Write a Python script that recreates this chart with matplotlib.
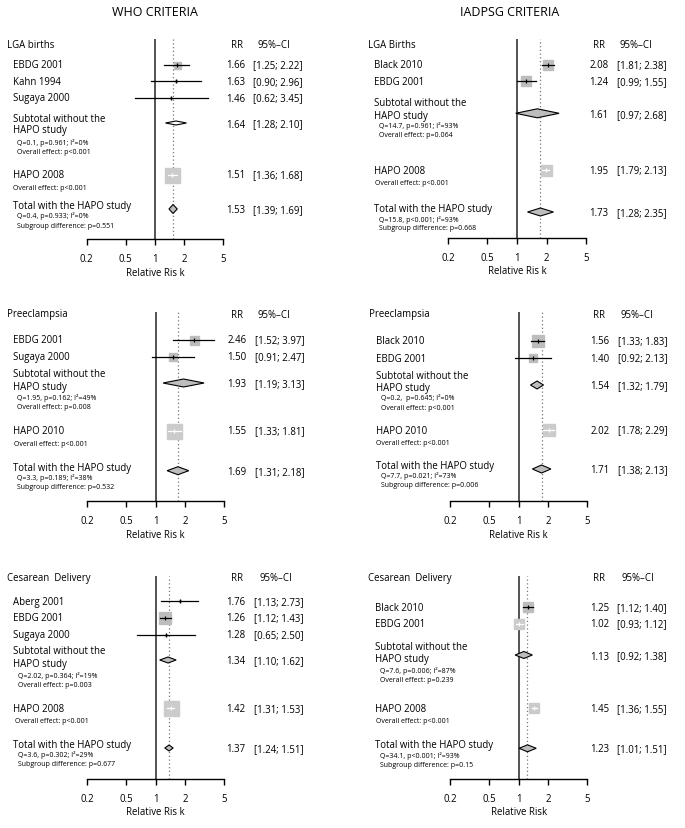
import matplotlib
matplotlib.use("Agg")
import matplotlib.pyplot as plt

W, H = 685, 829
plt.rcParams['font.family'] = ['Open Sans', 'DejaVu Sans']

# ---------------- data ----------------
# WHO criteria, LGA births
who_lga_names = ["EBDG 2001", "Kahn 1994", "Sugaya 2000"]
who_lga_rr = [1.66, 1.63, 1.46]
who_lga_lo = [1.25, 0.90, 0.62]
who_lga_hi = [2.22, 2.96, 3.45]
who_lga_sub = [1.64, 1.28, 2.10]
who_lga_hapo = [1.51, 1.36, 1.68]
who_lga_total = [1.53, 1.39, 1.69]
who_lga_stats = ["Q=0.1, p=0.961; I²=0%", "Overall effect: p<0.001",
                 "Overall effect: p<0.001",
                 "Q=0.4, p=0.933; I²=0%", "Subgroup difference: p=0.551"]

# IADPSG criteria, LGA births
iad_lga_names = ["Black 2010", "EBDG 2001"]
iad_lga_rr = [2.08, 1.24]
iad_lga_lo = [1.81, 0.99]
iad_lga_hi = [2.38, 1.55]
iad_lga_sub = [1.61, 0.97, 2.68]
iad_lga_hapo = [1.95, 1.79, 2.13]
iad_lga_total = [1.73, 1.28, 2.35]
iad_lga_stats = ["Q=14.7, p=0.961; I²=93%", "Overall effect: p=0.064",
                 "Overall effect: p<0.001",
                 "Q=15.8, p<0.001; I²=93%", "Subgroup difference: p=0.668"]

# WHO criteria, preeclampsia
who_pre_names = ["EBDG 2001", "Sugaya 2000"]
who_pre_rr = [2.46, 1.50]
who_pre_lo = [1.52, 0.91]
who_pre_hi = [3.97, 2.47]
who_pre_sub = [1.93, 1.19, 3.13]
who_pre_hapo = [1.55, 1.33, 1.81]
who_pre_total = [1.69, 1.31, 2.18]
who_pre_stats = ["Q=1.95, p=0.162; I²=49%", "Overall effect: p=0.008",
                 "Overall effect: p<0.001",
                 "Q=3.3, p=0.189; I²=38%", "Subgroup difference: p=0.532"]

# IADPSG criteria, preeclampsia
iad_pre_names = ["Black 2010", "EBDG 2001"]
iad_pre_rr = [1.56, 1.40]
iad_pre_lo = [1.33, 0.92]
iad_pre_hi = [1.83, 2.13]
iad_pre_sub = [1.54, 1.32, 1.79]
iad_pre_hapo = [2.02, 1.78, 2.29]
iad_pre_total = [1.71, 1.38, 2.13]
iad_pre_stats = ["Q=0.2,  p=0.645; I²=0%", "Overall effect: p<0.001",
                 "Overall effect: p<0.001",
                 "Q=7.7, p=0.021; I²=73%", "Subgroup difference: p=0.006"]

# WHO criteria, cesarean delivery
who_ces_names = ["Aberg 2001", "EBDG 2001", "Sugaya 2000"]
who_ces_rr = [1.76, 1.26, 1.28]
who_ces_lo = [1.13, 1.12, 0.65]
who_ces_hi = [2.73, 1.43, 2.50]
who_ces_sub = [1.34, 1.10, 1.62]
who_ces_hapo = [1.42, 1.31, 1.53]
who_ces_total = [1.37, 1.24, 1.51]
who_ces_stats = ["Q=2.02, p=0.364; I²=19%", "Overall effect: p=0.003",
                 "Overall effect: p<0.001",
                 "Q=3.6, p=0.302; I²=29%", "Subgroup difference: p=0.677"]

# IADPSG criteria, cesarean delivery
iad_ces_names = ["Black 2010", "EBDG 2001"]
iad_ces_rr = [1.25, 1.02]
iad_ces_lo = [1.12, 0.93]
iad_ces_hi = [1.40, 1.12]
iad_ces_sub = [1.13, 0.92, 1.38]
iad_ces_hapo = [1.45, 1.36, 1.55]
iad_ces_total = [1.23, 1.01, 1.51]
iad_ces_stats = ["Q=7.6, p=0.006; I²=87%", "Overall effect: p=0.239",
                 "Overall effect: p<0.001",
                 "Q=34.1, p<0.001; I²=93%", "Subgroup difference: p=0.15"]

ticks = [0.2, 0.5, 1, 2, 5]
tick_labels = ["0.2", "0.5", "1", "2", "5"]

GRAY = "#bdbdbd"
LIGHT = "#cbcbcb"
SMALL = 5.0
MAIN = 6.9

fig = plt.figure(figsize=(W / 100, H / 100), dpi=100)


def txt(x, y, s, size=MAIN, **kw):
    fig.text(x / W, 1 - y / H, s, va="center", fontsize=size, **kw)


def ci_text(lo, hi):
    return f"[{lo:.2f}; {hi:.2f}]"


def diamond(ax, vals, y, h, fc):
    rr, lo, hi = vals
    ax.fill([lo, rr, hi, rr], [y, y - h / 2, y, y + h / 2], fc=fc, ec="black",
            lw=0.8, zorder=4, clip_on=False)


def forest(d, lay):
    x0, x1, ay, top = lay["axis"]
    ax = fig.add_axes([x0 / W, 1 - ay / H, (x1 - x0) / W, (ay - top) / H])
    ax.set_xscale("log")
    ax.set_xlim(0.2, 5)
    ax.set_ylim(ay, top)
    ax.patch.set_alpha(0)
    for s in ["top", "left", "right"]:
        ax.spines[s].set_visible(False)
    ax.spines["bottom"].set_linewidth(1.0)
    ax.set_yticks([])
    ax.set_xticks(ticks)
    ax.set_xticklabels(tick_labels)
    ax.minorticks_off()
    ax.tick_params(axis="x", length=4, width=1.0, pad=6, labelsize=MAIN)

    ax.axvline(1, color="#444444", lw=1.3, zorder=1)
    ax.axvline(d["total"][0], color="#777777", lw=0.9, ls=(0, (1, 2)), zorder=1)

    # individual studies
    for i, name in enumerate(d["names"]):
        y = lay["study_y"][i]
        box, inner = lay["boxes"][i]
        fc = LIGHT if inner == "white" else GRAY
        ax.plot(d["rr"][i], y, marker="s", ms=box * 0.72, mfc=fc, mec=fc,
                zorder=2, clip_on=False)
        ax.plot([d["lo"][i], d["hi"][i]], [y, y], color=inner, lw=0.9,
                zorder=3, clip_on=False)
        ax.plot(d["rr"][i], y, marker="|", ms=3.5, mew=0.9, color=inner,
                zorder=3, clip_on=False)
        txt(lay["sx"], y, name)
        txt(lay["rrx"], y, f"{d['rr'][i]:.2f}", ha="right")
        txt(lay["cix"], y, ci_text(d["lo"][i], d["hi"][i]))

    # subtotal
    sy = lay["sub_y"]
    diamond(ax, d["sub"], sy, lay["sub_h"], lay.get("sub_fc", GRAY))
    txt(lay["sx"], lay["sub_lab"][0], "Subtotal without the")
    txt(lay["sx"], lay["sub_lab"][1], "HAPO study")
    txt(lay["qx"], lay["sub_q"], d["stats"][0], size=SMALL)
    txt(lay["qx"], lay["sub_q"] + 10, d["stats"][1], size=SMALL)
    txt(lay["rrx"], sy + 1, f"{d['sub'][0]:.2f}", ha="right")
    txt(lay["cix"], sy + 1, ci_text(d["sub"][1], d["sub"][2]))

    # HAPO
    hy = lay["hapo_y"]
    hb = lay["hapo_box"]
    ax.plot(d["hapo"][0], hy, marker="s", ms=hb * 0.72, mfc=LIGHT, mec=LIGHT,
            zorder=2, clip_on=False)
    ax.plot([d["hapo"][1], d["hapo"][2]], [hy, hy], color="white", lw=0.9, zorder=3)
    ax.plot(d["hapo"][0], hy, marker="|", ms=3.5, mew=0.9, color="white", zorder=3)
    txt(lay["sx"], hy, lay["hapo_name"])
    txt(lay["ox"], hy + 12.5, d["stats"][2], size=SMALL)
    txt(lay["rrx"], hy, f"{d['hapo'][0]:.2f}", ha="right")
    txt(lay["cix"], hy, ci_text(d["hapo"][1], d["hapo"][2]))

    # total
    ty = lay["tot_y"]
    diamond(ax, d["total"], ty, lay["tot_h"], GRAY)
    txt(lay["sx"], ty - 3.5, "Total with the HAPO study")
    txt(lay["qx"], ty + 6.5, d["stats"][3], size=SMALL)
    txt(lay["qx"], ty + 16, d["stats"][4], size=SMALL)
    txt(lay["rrx"], ty + 0.5, f"{d['total'][0]:.2f}", ha="right")
    txt(lay["cix"], ty + 0.5, ci_text(d["total"][1], d["total"][2]))

    # headers
    txt(lay["hx"], lay["head_y"], lay["header"])
    txt(lay["rrh"], lay["head_y"], "RR", ha="center")
    txt(lay["cih"], lay["head_y"], "95%\u2013CI")
    txt((x0 + x1) / 2, ay + 33, lay["xlabel"], ha="center")


panels = [
    (dict(names=who_lga_names, rr=who_lga_rr, lo=who_lga_lo, hi=who_lga_hi,
          sub=who_lga_sub, hapo=who_lga_hapo, total=who_lga_total, stats=who_lga_stats),
     dict(axis=(86.7, 223.3, 240, 40), header="LGA births", head_y=45,
          hx=7, sx=12.7, qx=16.7, ox=13.3, rrx=245, cix=253.3, rrh=237.5, cih=257.7,
          study_y=[65.7, 82.3, 99], boxes=[(7, "black"), (2.5, "black"), (2, "black")],
          sub_lab=[119, 131], sub_y=124, sub_h=4, sub_fc="white", sub_q=142.7,
          hapo_name="HAPO 2008", hapo_y=175.7, hapo_box=15,
          tot_y=210, tot_h=9, xlabel="Relative Ris k")),
    (dict(names=iad_lga_names, rr=iad_lga_rr, lo=iad_lga_lo, hi=iad_lga_hi,
          sub=iad_lga_sub, hapo=iad_lga_hapo, total=iad_lga_total, stats=iad_lga_stats),
     dict(axis=(448.3, 585.7, 239, 40), header="LGA Births", head_y=45,
          hx=368.3, sx=374, qx=379.3, ox=375, rrx=608.3, cix=617.3, rrh=599, cih=620,
          study_y=[65.7, 82.3], boxes=[(10, "black"), (10, "black")],
          sub_lab=[104, 116.7], sub_y=114.3, sub_h=9, sub_q=125.7,
          hapo_name="HAPO 2008", hapo_y=171, hapo_box=11,
          tot_y=213, tot_h=8, xlabel="Relative Ris k")),
    (dict(names=who_pre_names, rr=who_pre_rr, lo=who_pre_lo, hi=who_pre_hi,
          sub=who_pre_sub, hapo=who_pre_hapo, total=who_pre_total, stats=who_pre_stats),
     dict(axis=(87.3, 224, 502, 313), header="Preeclampsia", head_y=315,
          hx=7.3, sx=12.7, qx=17.3, ox=14, rrx=246.7, cix=255, rrh=237.3, cih=257.7,
          study_y=[341, 357.7], boxes=[(9, "black"), (7.5, "black")],
          sub_lab=[375, 387.7], sub_y=384, sub_h=8, sub_q=397.7,
          hapo_name="HAPO 2010", hapo_y=432, hapo_box=15,
          tot_y=471.7, tot_h=8, xlabel="Relative Ris k")),
    (dict(names=iad_pre_names, rr=iad_pre_rr, lo=iad_pre_lo, hi=iad_pre_hi,
          sub=iad_pre_sub, hapo=iad_pre_hapo, total=iad_pre_total, stats=iad_pre_stats),
     dict(axis=(450, 587.3, 502, 313), header="Preeclampsia", head_y=315,
          hx=369, sx=375.7, qx=380.7, ox=376, rrx=609.3, cix=617.7, rrh=599.3, cih=620.7,
          study_y=[341.7, 359], boxes=[(11.5, "black"), (8, "black")],
          sub_lab=[376.7, 389], sub_y=386, sub_h=8, sub_q=398.3,
          hapo_name="HAPO 2010", hapo_y=431, hapo_box=12,
          tot_y=470, tot_h=8, xlabel="Relative Ris k")),
    (dict(names=who_ces_names, rr=who_ces_rr, lo=who_ces_lo, hi=who_ces_hi,
          sub=who_ces_sub, hapo=who_ces_hapo, total=who_ces_total, stats=who_ces_stats),
     dict(axis=(87.3, 224, 780, 577), header="Cesarean  Delivery", head_y=579,
          hx=7.3, sx=13.3, qx=18.3, ox=15, rrx=245.7, cix=254, rrh=237.3, cih=259.3,
          study_y=[602.3, 619, 635.7], boxes=[(2.5, "black"), (11.5, "black"), (2, "black")],
          sub_lab=[651.7, 665], sub_y=661, sub_h=6, sub_q=676,
          hapo_name="HAPO 2008", hapo_y=709.3, hapo_box=15,
          tot_y=749, tot_h=6, xlabel="Relative Ris k")),
    (dict(names=iad_ces_names, rr=iad_ces_rr, lo=iad_ces_lo, hi=iad_ces_hi,
          sub=iad_ces_sub, hapo=iad_ces_hapo, total=iad_ces_total, stats=iad_ces_stats),
     dict(axis=(450, 587.3, 780, 577), header="Cesarean  Delivery", head_y=579,
          hx=368.3, sx=375, qx=380, ox=376, rrx=609.3, cix=617.3, rrh=599, cih=621,
          study_y=[608.3, 625], boxes=[(10, "black"), (10, "white")],
          sub_lab=[647.3, 659.3], sub_y=656, sub_h=7, sub_q=671,
          hapo_name="HAPO 2008", hapo_y=709.3, hapo_box=10,
          tot_y=749.3, tot_h=7, xlabel="Relative Risk")),
]

for d, lay in panels:
    forest(d, lay)

txt(155, 13, "WHO CRITERIA", size=9, ha="center")
txt(510, 13, "IADPSG CRITERIA", size=9, ha="center")

fig.savefig("out.png", dpi=100)
